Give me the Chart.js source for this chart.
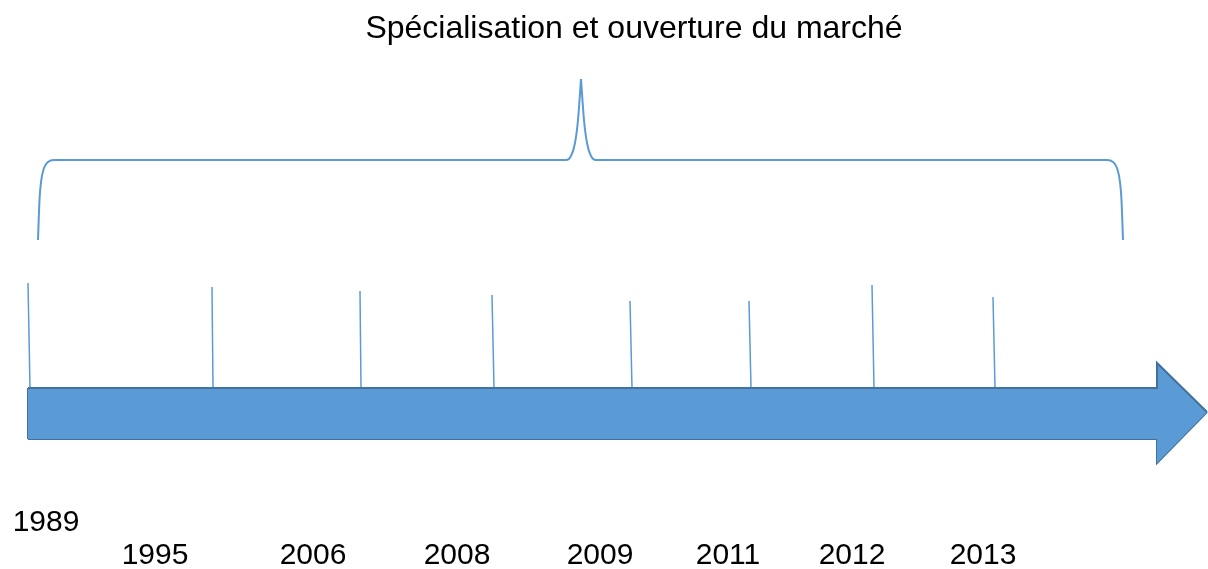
<!DOCTYPE html>
<html>
<head>
<meta charset="utf-8">
<script src="https://cdn.jsdelivr.net/npm/chart.js@4"></script>
<style>
  html, body { margin: 0; padding: 0; background: #fff; }
  #box { width: 1208px; height: 569px; position: relative; }
</style>
</head>
<body>
<div id="box"><canvas id="timeline"></canvas></div>
<script>
//data
const title = 'Spécialisation et ouverture du marché'
const years = ['1989', '1995', '2006', '2008', '2009', '2011', '2012', '2013']
// where each year tick meets the arrow, and where its line stops at the top
const tickBaseX = [30, 213, 361, 494, 632, 751, 874, 995]
const tickTopX = [28, 212, 360, 492, 630, 749, 872, 993]
const tickTopY = [283, 287, 291, 295, 301, 301, 285, 297]
const arrowTopY = 388
// year labels
const labelX = [46, 155, 313, 457, 600, 728, 852, 983]
const labelY = [523, 556, 556, 556, 556, 556, 556, 556]
// arrow outline
const arrowUpperX = [28, 1157, 1157, 1207]
const arrowUpperY = [388, 388, 363, 412]
const arrowLowerX = [28, 1157, 1157, 1207]
const arrowLowerY = [439, 439, 463, 412]
// brace, left and right halves
const braceLeftX = [38, 39.5, 41, 44, 48, 54, 566, 571, 575, 578, 581]
const braceLeftY = [240, 200, 182, 168, 162, 160, 160, 156, 143, 120, 79]
const braceRightX = [581, 584, 587, 591, 596, 1107, 1113, 1117, 1120, 1121.5, 1123]
const braceRightY = [79, 120, 143, 156, 160, 160, 162, 168, 182, 200, 240]
const titleX = 634
const titleY = 29

const blue = '#5B9BD5'
const darkBlue = '#41719C'

function pts(xs, ys) {
    return xs.map((x, i) => ({x: x, y: ys[i]}))
}

let tickData = []
years.forEach((y, i) => {
    tickData.push({x: tickTopX[i], y: tickTopY[i]})
    tickData.push({x: tickBaseX[i], y: arrowTopY})
    tickData.push({x: tickBaseX[i], y: null})
})

/////////////////////////////////////////////////////////////
//text plugin (title + years), placed through the scales
/////////////////////////////////////////////////////////////
const textPlugin = {
    id: 'timelineText',
    afterDatasetsDraw(chart) {
        const ctx = chart.ctx
        const xs = chart.scales.x
        const ys = chart.scales.y
        ctx.save()
        ctx.fillStyle = '#000'
        ctx.textAlign = 'center'
        ctx.textBaseline = 'middle'
        ctx.font = '32px "Liberation Sans", Arial, sans-serif'
        ctx.fillText(title, xs.getPixelForValue(titleX), ys.getPixelForValue(titleY))
        ctx.font = '30px "Liberation Sans", Arial, sans-serif'
        years.forEach((t, i) => {
            ctx.fillText(t, xs.getPixelForValue(labelX[i]), ys.getPixelForValue(labelY[i]))
        })
        ctx.restore()
    }
}

const common = {showLine: true, pointRadius: 0, pointHoverRadius: 0, clip: false, tension: 0}

const config = {
    type: 'scatter',
    data: {
        datasets: [
            Object.assign({}, common, {
                label: 'arrow top',
                data: pts(arrowUpperX, arrowUpperY),
                borderColor: darkBlue,
                borderWidth: 2,
                backgroundColor: blue,
                fill: '+1',
            }),
            Object.assign({}, common, {
                label: 'arrow bottom',
                data: pts(arrowLowerX, arrowLowerY),
                borderColor: darkBlue,
                borderWidth: 2,
                fill: false,
            }),
            Object.assign({}, common, {
                label: 'arrow left',
                data: pts([arrowUpperX[0], arrowLowerX[0]], [arrowUpperY[0], arrowLowerY[0]]),
                borderColor: darkBlue,
                borderWidth: 2,
                fill: false,
            }),
            Object.assign({}, common, {
                label: 'ticks',
                data: tickData,
                borderColor: blue,
                borderWidth: 1.5,
                spanGaps: false,
                fill: false,
            }),
            Object.assign({}, common, {
                label: 'brace left',
                data: pts(braceLeftX, braceLeftY),
                borderColor: blue,
                borderWidth: 2,
                cubicInterpolationMode: 'monotone',
                fill: false,
            }),
            Object.assign({}, common, {
                label: 'brace right',
                data: pts(braceRightX, braceRightY),
                borderColor: blue,
                borderWidth: 2,
                cubicInterpolationMode: 'monotone',
                fill: false,
            }),
        ]
    },
    plugins: [textPlugin],
    options: {
        responsive: true,
        maintainAspectRatio: false,
        animation: false,
        layout: {padding: 0},
        plugins: {
            legend: {display: false},
            tooltip: {enabled: false},
            title: {display: false},
        },
        scales: {
            x: {type: 'linear', min: 0, max: 1208, display: false},
            y: {type: 'linear', min: 0, max: 569, reverse: true, display: false},
        }
    }
}

const chart = new Chart(document.getElementById('timeline'), config)
</script>
</body>
</html>
